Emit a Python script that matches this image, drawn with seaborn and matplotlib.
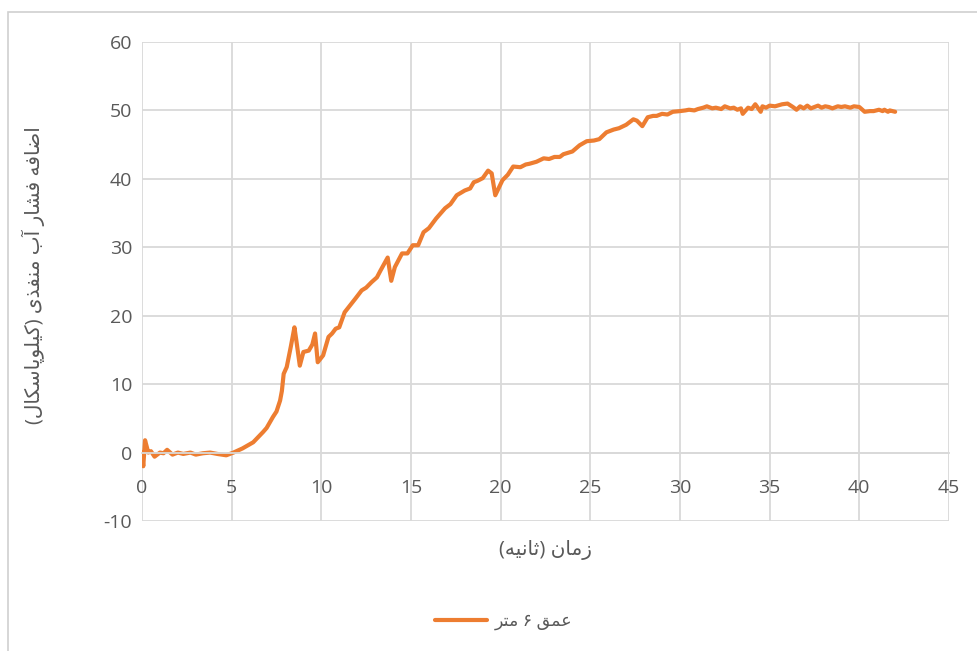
import matplotlib
matplotlib.use('Agg')
import matplotlib.pyplot as plt
import seaborn as sns
import pandas as pd
from matplotlib.patches import Rectangle

# data
time_s = [0.0, 0.07, 0.17, 0.35, 0.5, 0.7, 1.0, 1.2, 1.4, 1.7, 2.0, 2.3, 2.7, 3.0, 3.4, 3.8, 4.2, 4.7, 5.1,
          5.6, 6.2, 6.75, 6.95, 7.3, 7.5, 7.7, 7.8, 7.9, 8.07, 8.3, 8.5, 8.6, 8.8, 9.0, 9.3, 9.5, 9.65, 9.8,
          10.1, 10.4, 10.6, 10.8, 11.0, 11.3, 11.6, 11.9, 12.25, 12.5, 12.8, 13.1, 13.3, 13.7, 13.9, 14.1,
          14.5, 14.8, 15.1, 15.4, 15.7, 16.0, 16.4, 16.9, 17.2, 17.55, 18.0, 18.3, 18.5, 18.7, 19.0, 19.3,
          19.5, 19.7, 20.1, 20.4, 20.7, 21.1, 21.4, 21.6, 22.0, 22.4, 22.7, 23.0, 23.3, 23.5, 24.0, 24.4,
          24.8, 25.2, 25.5, 25.9, 26.3, 26.6, 27.0, 27.4, 27.6, 27.9, 28.2, 28.5, 28.7, 29.0, 29.3, 29.6,
          30.0, 30.3, 30.5, 30.8, 31.0, 31.3, 31.5, 31.8, 32.0, 32.3, 32.5, 32.8, 33.0, 33.2, 33.4, 33.5,
          33.8, 34.0, 34.2, 34.5, 34.6, 34.8, 35.0, 35.3, 35.7, 36.0, 36.3, 36.5, 36.7, 36.9, 37.1, 37.3,
          37.5, 37.7, 37.9, 38.1, 38.3, 38.5, 38.8, 39.0, 39.2, 39.5, 39.7, 40.0, 40.3, 40.6, 40.8, 41.1,
          41.3, 41.4, 41.6, 41.7, 42.0]
pressure_kpa = [0.0, -2.0, 1.8, 0.0, 0.2, -0.6, 0.0, -0.1, 0.4, -0.3, 0.0, -0.2, 0.0, -0.3, -0.1, 0.0, -0.2, -0.4, 0.0,
                0.6, 1.5, 3.0, 3.6, 5.2, 6.0, 7.6, 9.0, 11.5, 12.5, 15.5, 18.3, 16.5, 12.7, 14.7, 14.9, 15.8, 17.4, 13.2,
                14.2, 16.9, 17.4, 18.1, 18.3, 20.5, 21.5, 22.5, 23.7, 24.1, 24.9, 25.6, 26.6, 28.5, 25.1, 27.1,
                29.1, 29.1, 30.3, 30.3, 32.2, 32.8, 34.2, 35.7, 36.3, 37.6, 38.3, 38.6, 39.5, 39.7, 40.1, 41.2,
                40.8, 37.6, 39.8, 40.6, 41.8, 41.7, 42.1, 42.2, 42.5, 43.0, 42.9, 43.2, 43.2, 43.6, 44.0, 44.9,
                45.5, 45.6, 45.8, 46.8, 47.2, 47.4, 47.9, 48.7, 48.5, 47.7, 49.0, 49.2, 49.2, 49.5, 49.4, 49.8,
                49.9, 50.0, 50.1, 50.0, 50.2, 50.4, 50.6, 50.3, 50.4, 50.2, 50.6, 50.3, 50.4, 50.1, 50.3, 49.5,
                50.4, 50.2, 50.9, 49.8, 50.6, 50.4, 50.7, 50.6, 50.9, 51.0, 50.5, 50.1, 50.6, 50.3, 50.7, 50.3,
                50.5, 50.7, 50.4, 50.6, 50.5, 50.3, 50.6, 50.5, 50.6, 50.4, 50.6, 50.5, 49.8, 49.9, 49.9, 50.1,
                49.9, 50.1, 49.8, 50.0, 49.8]

x_ticks = [0, 5, 10, 15, 20, 25, 30, 35, 40, 45]
y_ticks = [-10, 0, 10, 20, 30, 40, 50, 60]

x_label = 'زمان (ثانیه)'
y_label = 'اضافه فشار آب منفذی (کیلوپاسکال)'
series_name = 'عمق ۶ متر'

# matplotlib does not shape arabic script, so do a small reshaping by hand
FORMS = {
    'ا': ('\uFE8D', '\uFE8E', None, None), 'آ': ('\uFE81', '\uFE82', None, None),
    'ب': ('\uFE8F', '\uFE90', '\uFE91', '\uFE92'), 'پ': ('\uFB56', '\uFB57', '\uFB58', '\uFB59'),
    'ت': ('\uFE95', '\uFE96', '\uFE97', '\uFE98'), 'ث': ('\uFE99', '\uFE9A', '\uFE9B', '\uFE9C'),
    'ذ': ('\uFEAB', '\uFEAC', None, None), 'ر': ('\uFEAD', '\uFEAE', None, None),
    'ز': ('\uFEAF', '\uFEB0', None, None), 'س': ('\uFEB1', '\uFEB2', '\uFEB3', '\uFEB4'),
    'ش': ('\uFEB5', '\uFEB6', '\uFEB7', '\uFEB8'), 'ض': ('\uFEBD', '\uFEBE', '\uFEBF', '\uFEC0'),
    'ع': ('\uFEC9', '\uFECA', '\uFECB', '\uFECC'), 'ف': ('\uFED1', '\uFED2', '\uFED3', '\uFED4'),
    'ق': ('\uFED5', '\uFED6', '\uFED7', '\uFED8'), 'ک': ('\uFB8E', '\uFB8F', '\uFB90', '\uFB91'),
    'ل': ('\uFEDD', '\uFEDE', '\uFEDF', '\uFEE0'), 'م': ('\uFEE1', '\uFEE2', '\uFEE3', '\uFEE4'),
    'ن': ('\uFEE5', '\uFEE6', '\uFEE7', '\uFEE8'), 'ه': ('\uFEE9', '\uFEEA', '\uFEEB', '\uFEEC'),
    'و': ('\uFEED', '\uFEEE', None, None), 'ی': ('\uFBFC', '\uFBFD', '\uFBFE', '\uFBFF'),
}


def rtl(text):
    out = []
    for i, ch in enumerate(text):
        if ch not in FORMS:
            out.append(ch)
            continue
        prev = text[i - 1] if i > 0 else ''
        nxt = text[i + 1] if i + 1 < len(text) else ''
        join_prev = prev in FORMS and FORMS[prev][2] is not None
        join_next = nxt in FORMS and FORMS[ch][2] is not None
        iso, fin, ini, med = FORMS[ch]
        if join_prev and join_next:
            out.append(med)
        elif join_prev:
            out.append(fin)
        elif join_next:
            out.append(ini)
        else:
            out.append(iso)
    s = ''.join(reversed(out))
    return s.translate(str.maketrans('()', ')('))


df = pd.DataFrame({'time': time_s, 'pressure': pressure_kpa})

sns.set_theme(style='white')
plt.rcParams['font.family'] = ['Open Sans', 'DejaVu Sans']
plt.rcParams['axes.unicode_minus'] = False

fig = plt.figure(figsize=(9.78, 6.51), dpi=100)
ax = fig.add_axes([0.1452, 0.1997, 0.8251, 0.7358])

grid_c = '#D9D9D9'
text_c = '#595959'
line_c = '#ED7D31'

sns.lineplot(data=df, x='time', y='pressure', ax=ax, color=line_c, linewidth=3,
             label=rtl(series_name), legend=False)

ax.set_xlim(0, 45)
ax.set_ylim(-10, 60)
ax.set_xticks(x_ticks)
ax.set_yticks(y_ticks)
ax.grid(True, color=grid_c, linewidth=1.3)
ax.set_axisbelow(True)
for side in ['top', 'right', 'left']:
    ax.spines[side].set_visible(False)
ax.spines['bottom'].set_position(('data', 0))
ax.spines['bottom'].set_color(grid_c)
ax.spines['bottom'].set_linewidth(1.3)
ax.tick_params(axis='x', length=0, pad=19, labelsize=14, labelcolor=text_c)
ax.tick_params(axis='y', length=0, pad=7, labelsize=14, labelcolor=text_c)

ax.set_xlabel('')
ax.set_ylabel('')
fig.text(0.558, 0.155, rtl(x_label), ha='center', va='center', fontsize=14.5, color=text_c)
fig.text(0.034, 0.578, rtl(y_label), ha='center', va='center', rotation=90, fontsize=14.5, color=text_c)

handles, labels = ax.get_legend_handles_labels()
fig.legend(handles, labels, loc='center', bbox_to_anchor=(0.515, 0.045), frameon=False,
           fontsize=12.5, labelcolor=text_c, handlelength=3.0, handletextpad=0.4)

fig.patches.append(Rectangle((0.008, -0.02), 1.1, 1.02 - 12 / 651, transform=fig.transFigure,
                             fill=False, edgecolor='#D0D0D0', linewidth=1.2))

fig.savefig('out.png', dpi=100)
